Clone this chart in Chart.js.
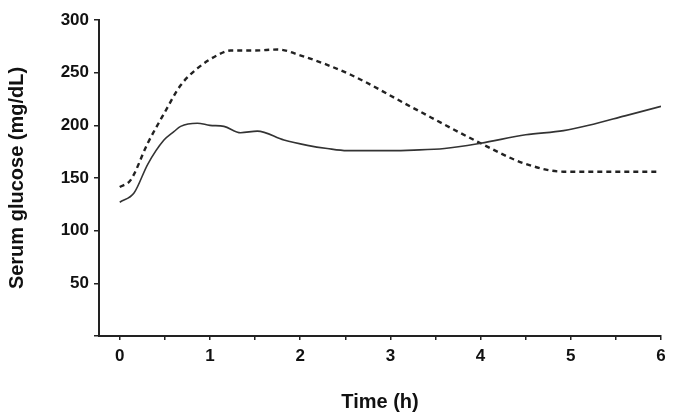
<!DOCTYPE html>
<html>
<head>
<meta charset="utf-8">
<script src="https://cdn.jsdelivr.net/npm/chart.js@4"></script>
<style>
  html, body { margin: 0; padding: 0; background: #fff; }
  #wrap { width: 700px; height: 419px; }
</style>
</head>
<body>
<div id="wrap"><canvas id="glucoseChart" width="700" height="419"></canvas></div>
<script>
var solidTimes = [0, 0.16, 0.31, 0.49, 0.6, 0.675, 0.86, 1.0, 1.155, 1.34, 1.525, 1.82, 2.08, 2.3, 2.52, 3.0, 3.26, 3.6, 4.0, 4.5, 4.92, 5.2, 5.6, 6.0];
var solidValues = [127, 136, 163, 186, 194, 199, 202, 200, 199, 193, 194.5, 186, 181, 178, 176, 176, 176.5, 178, 183, 191, 195, 200, 209, 218];

var dashedTimes = [0, 0.12, 0.31, 0.49, 0.675, 0.86, 1.08, 1.23, 1.5, 1.75, 2.0, 2.56, 3.22, 4.0, 4.48, 4.92, 5.5, 5.95];
var dashedValues = [141.5, 148, 183, 211, 238, 254, 266.5, 271, 271, 272, 266.5, 248, 218, 183, 164, 156, 156, 156];

var xTicks = [0, 0.5, 1, 1.5, 2, 2.5, 3, 3.5, 4, 4.5, 5, 5.5, 6];

function toPoints(xs, ys) {
  return xs.map(function(x, i) { return { x: x, y: ys[i] }; });
}

var font = { family: "'Liberation Sans', Arial, sans-serif", weight: "bold" };

new Chart(document.getElementById("glucoseChart").getContext("2d"), {
  type: "line",
  data: {
    datasets: [{
      data: toPoints(solidTimes, solidValues),
      borderColor: "#333",
      borderWidth: 1.6,
      pointRadius: 0,
      cubicInterpolationMode: "monotone"
    }, {
      data: toPoints(dashedTimes, dashedValues),
      borderColor: "#222",
      borderWidth: 2.4,
      borderDash: [5, 4],
      pointRadius: 0,
      cubicInterpolationMode: "monotone"
    }]
  },
  options: {
    responsive: false,
    animation: false,
    layout: { padding: { left: 0, right: 39, top: 20, bottom: 0 } },
    plugins: { legend: { display: false }, tooltip: { enabled: false } },
    scales: {
      x: {
        type: "linear",
        min: -0.23,
        max: 6,
        afterBuildTicks: function(axis) {
          axis.ticks = xTicks.map(function(v) { return { value: v }; });
        },
        afterFit: function(axis) { axis.height = 83; },
        border: { color: "#222", width: 2 },
        grid: { drawOnChartArea: false, drawTicks: true, tickLength: 4, color: "#222", lineWidth: 1.5 },
        ticks: {
          autoSkip: false,
          maxRotation: 0,
          padding: 6,
          color: "#111",
          font: Object.assign({ size: 17 }, font),
          callback: function(v) { return Number.isInteger(v) ? v : ""; }
        },
        title: {
          display: true,
          text: "Time (h)",
          color: "#111",
          font: Object.assign({ size: 20 }, font),
          padding: { top: 4, bottom: 5 }
        }
      },
      y: {
        min: 0,
        max: 300,
        afterFit: function(axis) { axis.width = 99; },
        border: { color: "#222", width: 2 },
        grid: { drawOnChartArea: false, drawTicks: true, tickLength: 5, color: "#222", lineWidth: 1.5 },
        ticks: {
          stepSize: 50,
          padding: 5,
          color: "#111",
          font: Object.assign({ size: 17 }, font),
          callback: function(v) { return v === 0 ? "" : v; }
        },
        title: {
          display: true,
          text: "Serum glucose (mg/dL)",
          color: "#111",
          font: Object.assign({ size: 20 }, font),
          padding: { top: 5, bottom: 4 }
        }
      }
    }
  }
});
</script>
</body>
</html>
